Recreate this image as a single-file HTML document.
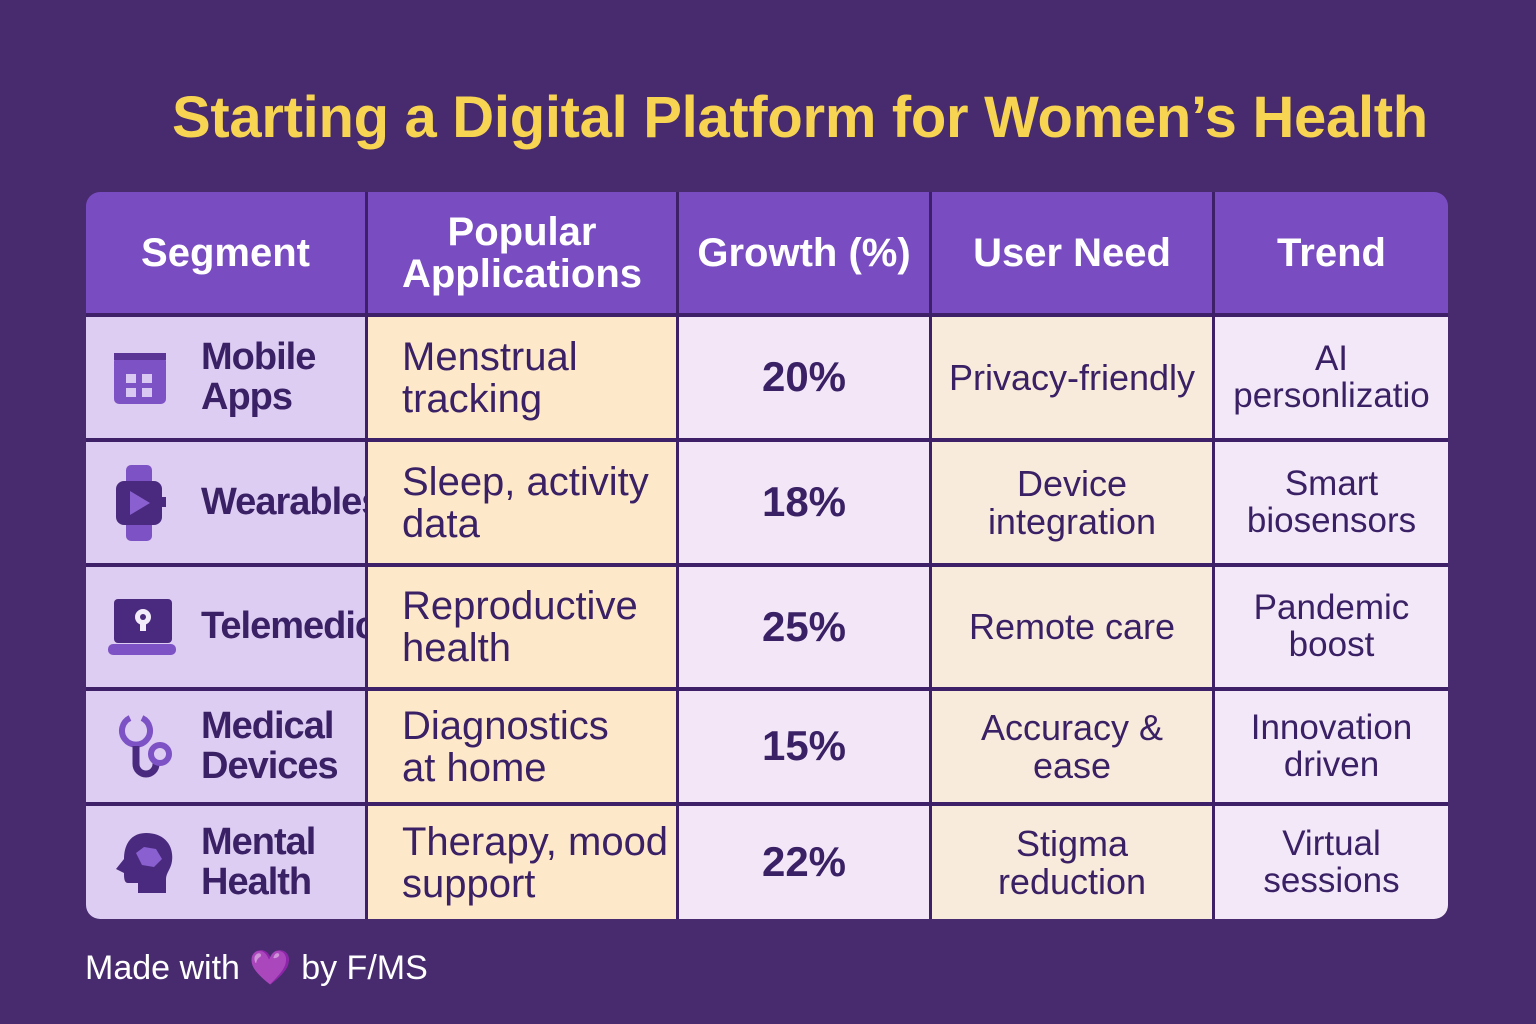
<!DOCTYPE html>
<html><head><meta charset="utf-8"><style>
html,body{margin:0;padding:0}
body{width:1536px;height:1024px;background:#472b6e;position:relative;overflow:hidden;font-family:"Liberation Sans",sans-serif}
.title{position:absolute;left:172px;top:84px;white-space:nowrap;color:#f7d451;font-size:58px;font-weight:bold;letter-spacing:-0.3px}
.tbl{position:absolute;left:86px;top:192px;width:1362px;height:727px;border-radius:14px;overflow:hidden;background:#3e2068}
.c{position:absolute;display:flex;align-items:center;justify-content:center;text-align:center;color:#3a2064;box-sizing:border-box;line-height:1.05}
.h{background:#7a4cc2;color:#fff;font-weight:bold;font-size:40px}
.seg{background:#ddcdf2;justify-content:flex-start;padding-left:115px;text-align:left;font-weight:bold;font-size:38px;letter-spacing:-1px;white-space:nowrap;overflow:hidden}
.app{background:#fde8c9;justify-content:flex-start;padding-left:34px;text-align:left;font-size:40px}
.gr{background:#f2e6f7;font-weight:bold;font-size:42px}
.need{background:#f9ebdb;font-size:36px}
.tr{background:#f3e8f8;font-size:35px}
.ic{position:absolute;left:22px;top:50%;transform:translateY(-50%)}
.foot{position:absolute;left:85px;top:948px;color:#fff;font-size:34px}
</style></head><body>
<div class="title">Starting a Digital Platform for Women’s Health</div>
<div class="tbl">
 <div class="c h" style="left:0;top:0;width:279px;height:121px">Segment</div>
 <div class="c h" style="left:282px;top:0;width:308px;height:121px">Popular<br>Applications</div>
 <div class="c h" style="left:593px;top:0;width:250px;height:121px">Growth (%)</div>
 <div class="c h" style="left:846px;top:0;width:280px;height:121px">User Need</div>
 <div class="c h" style="left:1129px;top:0;width:233px;height:121px">Trend</div>

 <div class="c seg" style="left:0;top:125px;width:279px;height:121px">
  <svg class="ic" width="60" height="60" viewBox="0 0 60 60"><rect x="6" y="8" width="52" height="48" rx="5" fill="#7d52c4"/><rect x="6" y="5" width="52" height="7" fill="#5a3596"/><g fill="#d9c8f2"><rect x="18" y="26" width="10" height="9"/><rect x="34" y="26" width="10" height="9"/><rect x="18" y="40" width="10" height="9"/><rect x="34" y="40" width="10" height="9"/></g></svg>Mobile<br>Apps</div>
 <div class="c app" style="left:282px;top:125px;width:308px;height:121px">Menstrual<br>tracking</div>
 <div class="c gr" style="left:593px;top:125px;width:250px;height:121px">20%</div>
 <div class="c need" style="left:846px;top:125px;width:280px;height:121px">Privacy-friendly</div>
 <div class="c tr" style="left:1129px;top:125px;width:233px;height:121px;overflow:hidden;white-space:nowrap">AI<br>personlizatio</div>

 <div class="c seg" style="left:0;top:250px;width:279px;height:121px">
  <svg class="ic" width="62" height="80" viewBox="0 0 62 80" style="left:24px"><rect x="16" y="2" width="26" height="76" rx="5" fill="#7d52c4"/><rect x="6" y="18" width="46" height="44" rx="8" fill="#4a2a7e"/><rect x="50" y="34" width="6" height="10" fill="#4a2a7e"/><path d="M20 28 L40 40 L20 52Z" fill="#8a60d0"/></svg>Wearables</div>
 <div class="c app" style="left:282px;top:250px;width:308px;height:121px">Sleep, activity<br>data</div>
 <div class="c gr" style="left:593px;top:250px;width:250px;height:121px">18%</div>
 <div class="c need" style="left:846px;top:250px;width:280px;height:121px">Device<br>integration</div>
 <div class="c tr" style="left:1129px;top:250px;width:233px;height:121px">Smart<br>biosensors</div>

 <div class="c seg" style="left:0;top:375px;width:279px;height:120px">
  <svg class="ic" width="70" height="60" viewBox="0 0 70 60" style="left:22px"><rect x="6" y="2" width="58" height="44" rx="4" fill="#4a2a7e"/><rect x="0" y="47" width="68" height="11" rx="5" fill="#7d52c4"/><circle cx="35" cy="20" r="8" fill="#f3ecfb"/><rect x="32" y="22" width="6" height="12" fill="#f3ecfb"/><circle cx="35" cy="20" r="3" fill="#4a2a7e"/></svg>Telemedicine</div>
 <div class="c app" style="left:282px;top:375px;width:308px;height:120px">Reproductive<br>health</div>
 <div class="c gr" style="left:593px;top:375px;width:250px;height:120px">25%</div>
 <div class="c need" style="left:846px;top:375px;width:280px;height:120px">Remote care</div>
 <div class="c tr" style="left:1129px;top:375px;width:233px;height:120px">Pandemic<br>boost</div>

 <div class="c seg" style="left:0;top:499px;width:279px;height:111px">
  <svg class="ic" width="66" height="66" viewBox="0 0 66 66" style="left:28px"><path d="M16 4 A14 14 0 1 0 28 4" fill="none" stroke="#7d52c4" stroke-width="6"/><path d="M22 32 L22 50 A10 10 0 0 0 42 50 L42 46" fill="none" stroke="#4a2a7e" stroke-width="7"/><circle cx="46" cy="40" r="9" fill="none" stroke="#7d52c4" stroke-width="6"/></svg>Medical<br>Devices</div>
 <div class="c app" style="left:282px;top:499px;width:308px;height:111px">Diagnostics<br>at home</div>
 <div class="c gr" style="left:593px;top:499px;width:250px;height:111px">15%</div>
 <div class="c need" style="left:846px;top:499px;width:280px;height:111px">Accuracy &amp;<br>ease</div>
 <div class="c tr" style="left:1129px;top:499px;width:233px;height:111px">Innovation<br>driven</div>

 <div class="c seg" style="left:0;top:614px;width:279px;height:113px">
  <svg class="ic" width="64" height="64" viewBox="0 0 64 64" style="left:26px"><path d="M34 2 C52 2 62 14 60 30 C59 38 54 42 54 48 L54 62 L26 62 L26 52 L16 52 C12 52 12 46 12 42 L4 38 L12 28 C12 12 20 2 34 2Z" fill="#4a2a7e"/><path d="M24 22 L32 16 L44 18 L50 28 L42 36 L30 34Z" fill="#8a60d0"/></svg>Mental<br>Health</div>
 <div class="c app" style="left:282px;top:614px;width:308px;height:113px">Therapy, mood<br>support</div>
 <div class="c gr" style="left:593px;top:614px;width:250px;height:113px">22%</div>
 <div class="c need" style="left:846px;top:614px;width:280px;height:113px">Stigma<br>reduction</div>
 <div class="c tr" style="left:1129px;top:614px;width:233px;height:113px">Virtual<br>sessions</div>
</div>
<div class="foot">Made with <span style="color:#9b5de5">💜</span> by F/MS</div>
</body></html>
